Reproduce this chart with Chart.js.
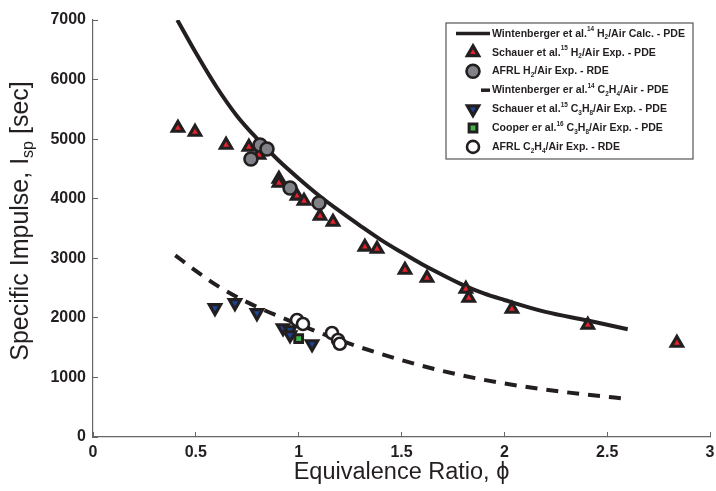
<!DOCTYPE html>
<html>
<head>
<meta charset="utf-8">
<script src="https://cdn.jsdelivr.net/npm/chart.js@4.4.0/dist/chart.umd.min.js"></script>
<style>
    html, body { margin: 0; padding: 0; background: #fff; }
</style>
</head>
<body>
<canvas id="chartCanvas" width="716" height="491"></canvas>
<script>
const FONT = "'Liberation Sans', Arial, sans-serif";
const INK = '#231f20';

// Wintenberger H2/Air calculation (solid)
const calcH2Phi = [0.41, 0.5, 0.6, 0.7, 0.8, 0.9, 1.0, 1.1, 1.2, 1.3, 1.4, 1.5, 1.6, 1.7, 1.8, 1.9, 2.0, 2.2, 2.4, 2.6];
const calcH2Isp = [7000, 6450, 5880, 5390, 5000, 4650, 4340, 4050, 3790, 3545, 3310, 3100, 2900, 2720, 2550, 2410, 2300, 2100, 1960, 1810];

// Wintenberger C2H4/Air (dashed)
const calcC2H4Phi = [0.4, 0.5, 0.6, 0.7, 0.8, 0.9, 1.0, 1.1, 1.2, 1.3, 1.4, 1.5, 1.6, 1.7, 1.8, 1.9, 2.0, 2.2, 2.4, 2.6];
const calcC2H4Isp = [3050, 2790, 2550, 2350, 2180, 2030, 1890, 1752, 1625, 1505, 1395, 1290, 1195, 1108, 1030, 960, 898, 795, 712, 640];

const schauerH2Phi = [0.413, 0.496, 0.647, 0.758, 0.807, 0.904, 0.904, 0.992, 1.026, 1.104, 1.167, 1.322, 1.381, 1.517, 1.624, 1.813, 1.827, 2.037, 2.406, 2.839];
const schauerH2Isp = [5187, 5120, 4902, 4868, 4734, 4331, 4264, 4046, 3962, 3710, 3609, 3190, 3156, 2803, 2669, 2484, 2333, 2149, 1880, 1578];

const afrlH2Phi = [0.768, 0.812, 0.846, 0.958, 1.099];
const afrlH2Isp = [4667, 4902, 4835, 4180, 3928];

const schauerC3H8Phi = [0.593, 0.69, 0.797, 0.924, 0.958, 0.958, 1.065];
const schauerC3H8Isp = [2166, 2250, 2082, 1830, 1796, 1712, 1561];

const cooperPhi = [1.0];
const cooperIsp = [1650];

const afrlC2H4Phi = [0.992, 1.021, 1.162, 1.191, 1.2];
const afrlC2H4Isp = [1964, 1897, 1746, 1628, 1565];

const xTicks = [0, 0.5, 1, 1.5, 2, 2.5, 3];
const yTicks = [0, 1000, 2000, 3000, 4000, 5000, 6000, 7000];

const legendLabels = [
    'Wintenberger et al.^{14} H_{2}/Air Calc. - PDE',
    'Schauer et al.^{15} H_{2}/Air Exp. - PDE',
    'AFRL H_{2}/Air Exp. - RDE',
    'Wintenberger er al.^{14} C_{2}H_{4}/Air - PDE',
    'Schauer et al.^{15} C_{3}H_{8}/Air Exp. - PDE',
    'Cooper er al.^{16} C_{3}H_{8}/Air Exp. - PDE',
    'AFRL C_{2}H_{4}/Air Exp. - RDE'
];
const xTitle = 'Equivalence Ratio, ϕ';
const yTitle = 'Specific Impulse, I_{sp} [sec]';

function toPoints(xs, ys) {
    return xs.map((x, i) => ({ x: x, y: ys[i] }));
}

function richRuns(str) {
    const runs = [];
    str.split(/(\^\{[^}]*\}|_\{[^}]*\})/).forEach(part => {
        if (!part) return;
        if (part.startsWith('^{')) runs.push({ t: part.slice(2, -1), shift: 'sup' });
        else if (part.startsWith('_{')) runs.push({ t: part.slice(2, -1), shift: 'sub' });
        else runs.push({ t: part, shift: null });
    });
    return runs;
}

function measureRich(ctx, str, size, weight) {
    let total = 0;
    richRuns(str).forEach(r => {
        ctx.font = `${weight} ${r.shift ? Math.round(size * 0.62) : size}px ${FONT}`;
        total += ctx.measureText(r.t).width;
    });
    return total;
}

function drawRich(ctx, str, x, y, size, weight, align) {
    const runs = richRuns(str);
    const fontFor = r => `${weight} ${r.shift ? Math.round(size * 0.62) : size}px ${FONT}`;
    let total = 0;
    runs.forEach(r => {
        ctx.font = fontFor(r);
        r.w = ctx.measureText(r.t).width;
        total += r.w;
    });
    let cx = align === 'center' ? x - total / 2 : x;
    ctx.textAlign = 'left';
    ctx.textBaseline = 'middle';
    runs.forEach(r => {
        ctx.font = fontFor(r);
        let dy = 0;
        if (r.shift === 'sup') dy = -size * 0.35;
        if (r.shift === 'sub') dy = size * 0.32;
        ctx.fillText(r.t, cx, y + dy);
        cx += r.w;
    });
}

const decorations = {
    id: 'decorations',
    afterDraw(chart) {
        const ctx = chart.ctx;
        const area = chart.chartArea;
        ctx.save();
        ctx.fillStyle = INK;

        // axis titles
        drawRich(ctx, xTitle, (area.left + area.right) / 2, 473, 23.5, 'normal', 'center');
        ctx.save();
        ctx.translate(21, 221);
        ctx.rotate(-Math.PI / 2);
        drawRich(ctx, yTitle, 0, 0, 25, 'normal', 'center');
        ctx.restore();

        // legend box
        const box = { left: 446, top: 23, right: 693, bottom: 159 };
        ctx.fillStyle = '#fff';
        ctx.fillRect(box.left, box.top, box.right - box.left, box.bottom - box.top);
        ctx.strokeStyle = '#555';
        ctx.lineWidth = 1.2;
        ctx.strokeRect(box.left, box.top, box.right - box.left, box.bottom - box.top);

        // condense legend text so the longest entry spans the same width as the reference
        const legendSize = 11.5;
        const squeeze = 193 / measureRich(ctx, legendLabels[0], legendSize, 'bold');

        chart.data.datasets.forEach(ds => {
            const y = 33.5 + ds.legendRow * 18.9;
            if (ds.showLine) {
                ctx.strokeStyle = ds.borderColor;
                ctx.lineWidth = 3.5;
                ctx.setLineDash([]);
                ctx.beginPath();
                ctx.moveTo(ds.borderDash ? 481 : 456, y);
                ctx.lineTo(490, y);
                ctx.stroke();
            } else {
                ctx.fillStyle = ds.backgroundColor;
                ctx.strokeStyle = ds.borderColor;
                ctx.lineWidth = ds.borderWidth;
                Chart.helpers.drawPoint(ctx, {
                    pointStyle: ds.pointStyle,
                    rotation: ds.rotation || 0,
                    radius: ds.pointRadius,
                    borderWidth: ds.borderWidth
                }, 473, y);
            }
            ctx.save();
            ctx.translate(492, y);
            ctx.scale(squeeze, 1);
            ctx.fillStyle = INK;
            drawRich(ctx, legendLabels[ds.legendRow], 0, 0, legendSize, 'bold', 'left');
            ctx.restore();
        });
        ctx.restore();
    }
};

const ctx = document.getElementById('chartCanvas').getContext('2d');
new Chart(ctx, {
    type: 'scatter',
    data: {
        datasets: [
            {
                legendRow: 0,
                data: toPoints(calcH2Phi, calcH2Isp),
                showLine: true,
                borderColor: INK,
                borderWidth: 4,
                pointRadius: 0,
                cubicInterpolationMode: 'monotone',
                order: 10
            },
            {
                legendRow: 1,
                data: toPoints(schauerH2Phi, schauerH2Isp),
                pointStyle: 'triangle',
                pointRadius: 6.5,
                backgroundColor: '#e3222b',
                borderColor: INK,
                borderWidth: 3.2,
                order: 5
            },
            {
                legendRow: 2,
                data: toPoints(afrlH2Phi, afrlH2Isp),
                pointStyle: 'circle',
                pointRadius: 6.5,
                backgroundColor: '#818287',
                borderColor: INK,
                borderWidth: 2.6,
                order: 4
            },
            {
                legendRow: 3,
                data: toPoints(calcC2H4Phi, calcC2H4Isp),
                showLine: true,
                borderColor: INK,
                borderWidth: 4,
                borderDash: [12, 9],
                pointRadius: 0,
                cubicInterpolationMode: 'monotone',
                order: 10
            },
            {
                legendRow: 4,
                data: toPoints(schauerC3H8Phi, schauerC3H8Isp),
                pointStyle: 'triangle',
                rotation: 180,
                pointRadius: 6.5,
                backgroundColor: '#1d4597',
                borderColor: INK,
                borderWidth: 3.2,
                order: 5
            },
            {
                legendRow: 5,
                data: toPoints(cooperPhi, cooperIsp),
                pointStyle: 'rect',
                pointRadius: 5.5,
                backgroundColor: '#3cb54a',
                borderColor: INK,
                borderWidth: 3,
                order: 3
            },
            {
                legendRow: 6,
                data: toPoints(afrlC2H4Phi, afrlC2H4Isp),
                pointStyle: 'circle',
                pointRadius: 6,
                backgroundColor: '#fff',
                borderColor: INK,
                borderWidth: 2.6,
                order: 4
            }
        ]
    },
    options: {
        responsive: false,
        animation: false,
        layout: { autoPadding: false, padding: { top: 20, right: 6, left: 0, bottom: 0 } },
        plugins: {
            legend: { display: false },
            tooltip: { enabled: false }
        },
        scales: {
            x: {
                type: 'linear',
                min: 0,
                max: 3,
                afterBuildTicks: scale => { scale.ticks = xTicks.map(v => ({ value: v })); },
                afterFit: scale => {
                    scale.height = 54;
                    scale.paddingLeft = 0;
                    scale.paddingRight = 0;
                },
                grid: { drawOnChartArea: false, drawTicks: true, tickLength: -5, color: '#666', lineWidth: 1 },
                border: { display: true, color: '#666', width: 1.2 },
                ticks: {
                    padding: 11,
                    color: INK,
                    font: { family: FONT, size: 16, weight: 'bold' },
                    callback: v => String(v)
                }
            },
            y: {
                type: 'linear',
                min: 0,
                max: 7000,
                afterBuildTicks: scale => { scale.ticks = yTicks.map(v => ({ value: v })); },
                afterFit: scale => {
                    scale.width = 93;
                    scale.paddingTop = 0;
                    scale.paddingBottom = 0;
                },
                grid: { drawOnChartArea: false, drawTicks: true, tickLength: -5, color: '#666', lineWidth: 1 },
                border: { display: true, color: '#666', width: 1.2 },
                ticks: {
                    padding: 12,
                    color: INK,
                    font: { family: FONT, size: 16, weight: 'bold' },
                    callback: v => String(v)
                }
            }
        }
    },
    plugins: [decorations]
});
</script>
</body>
</html>
